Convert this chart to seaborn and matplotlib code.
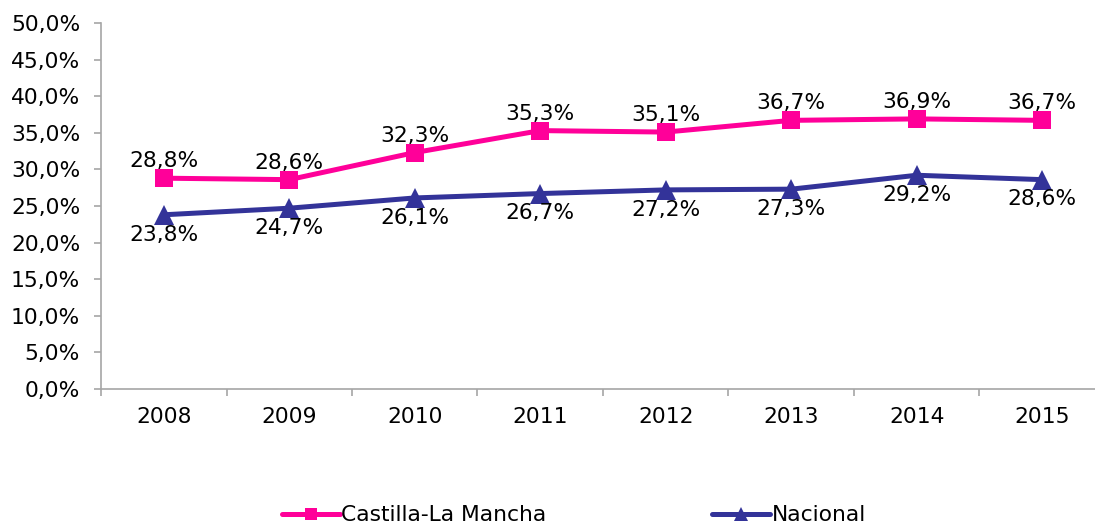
import numpy as np
import pandas as pd
import matplotlib
matplotlib.use("Agg")
import matplotlib.pyplot as plt
import seaborn as sns

# data
years = ["2008", "2009", "2010", "2011", "2012", "2013", "2014", "2015"]
castilla = [28.8, 28.6, 32.3, 35.3, 35.1, 36.7, 36.9, 36.7]
nacional = [23.8, 24.7, 26.1, 26.7, 27.2, 27.3, 29.2, 28.6]

sns.set_style("white")
plt.rcParams['font.family'] = ['DejaVu Sans']
plt.rcParams['text.color'] = 'black'
plt.rcParams['xtick.color'] = 'black'
plt.rcParams['ytick.color'] = 'black'

fig = plt.figure(figsize=(10.95, 5.26), dpi=100)
ax = fig.add_axes([101 / 1095, 1 - 389 / 526, 1004 / 1095, (389 - 23) / 526])

pos = np.arange(len(years))
df = pd.DataFrame({"pos": pos, "Castilla-La Mancha": castilla, "Nacional": nacional})

pink = "#FF0099"
navy = "#333399"
sns.lineplot(data=df, x="pos", y="Castilla-La Mancha", ax=ax, color=pink, lw=3.6,
             marker="s", markersize=13, markeredgewidth=0, label="Castilla-La Mancha")
sns.lineplot(data=df, x="pos", y="Nacional", ax=ax, color=navy, lw=3.6,
             marker="^", markersize=14, markeredgewidth=0, label="Nacional")

def fmt(v):
    return f"{v:.1f}%".replace(".", ",")

fs = 15.7
for x, v in zip(pos, castilla):
    ax.annotate(fmt(v), (x, v), xytext=(0, 5), textcoords="offset points",
                ha="center", va="bottom", fontsize=fs)
for x, v in zip(pos, nacional):
    ax.annotate(fmt(v), (x, v), xytext=(0, -7), textcoords="offset points",
                ha="center", va="top", fontsize=fs)

ax.set_ylim(0, 50)
ax.set_xlim(-0.5, len(years) - 0.5)
ax.set_yticks(np.arange(0, 51, 5))
ax.set_yticklabels([fmt(v) for v in np.arange(0, 51, 5)], fontsize=fs)
ax.set_xticks(pos)
ax.set_xticklabels(years, fontsize=fs)
ax.set_xticks(np.arange(-0.5, len(years), 1), minor=True)
ax.tick_params(axis="x", which="major", length=0, pad=13, bottom=True)
ax.tick_params(axis="x", which="minor", length=5, color="#A6A6A6", width=1.2, bottom=True)
ax.tick_params(axis="y", length=5, color="#A6A6A6", width=1.2, pad=10, left=True,
               labelcolor="black")
ax.set_xlabel("")
ax.set_ylabel("")

for s in ["top", "right"]:
    ax.spines[s].set_visible(False)
for s in ["left", "bottom"]:
    ax.spines[s].set_color("#A6A6A6")
    ax.spines[s].set_linewidth(1.2)

ax.legend(loc="center", bbox_to_anchor=(0.5 - 29 / 1004, -0.345), ncol=2, frameon=False,
          fontsize=fs, handlelength=2.66, handletextpad=0.05, columnspacing=7.6,
          markerscale=0.7)

fig.savefig("out.png", dpi=100)
